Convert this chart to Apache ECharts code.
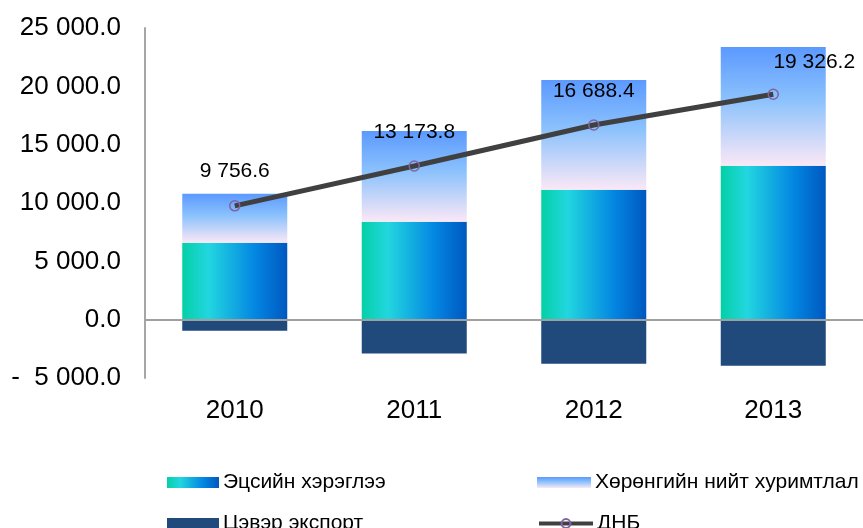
<!DOCTYPE html>
<html>
<head>
<meta charset="utf-8">
<script src="https://cdn.jsdelivr.net/npm/echarts@6/dist/echarts.min.js"></script>
<style>
  html, body { margin: 0; padding: 0; background: #fff; }
  #chart { width: 863px; height: 528px; }
</style>
</head>
<body>
<div id="chart"></div>
<script>
// data
const years = ['2010', '2011', '2012', '2013']
const consumption = [6590, 8390, 11130, 13190]
const capital = [4200, 7790, 9420, 10190]
const netExport = [-940, -2910, -3770, -3940]
const gdp = [9756.6, 13173.8, 16688.4, 19326.2]

// "25 000.0" style numbers
function fmt (v) {
  const neg = v < 0
  const parts = Math.abs(v).toFixed(1).split('.')
  const int = parts[0].replace(/\B(?=(\d{3})+(?!\d))/g, ' ')
  return (neg ? '-  ' : '') + int + '.' + parts[1]
}

const chart = echarts.init(document.getElementById('chart'))
const font = 'Liberation Sans, Arial, sans-serif'

function legendItem (name, left, top, w, icon) {
  const item = { name: name }
  if (icon) item.icon = icon
  return {
    left: left,
    top: top,
    itemWidth: w,
    itemHeight: 11,
    itemGap: 0,
    lineStyle: { width: 4 },
    textStyle: { fontSize: 21, color: '#000', fontFamily: font, padding: [0, 0, 0, -1] },
    data: [item]
  }
}

chart.setOption({
  animation: false,
  textStyle: { fontFamily: font },
  grid: { left: 145, right: -9, top: 28, bottom: 150 },
  legend: [
    legendItem('Эцсийн хэрэглээ', 162, 467, 52, 'rect'),
    legendItem('Цэвэр экспорт', 162, 508, 52, 'rect'),
    legendItem('Хөрөнгийн нийт хуримтлал', 532, 467, 54, 'rect'),
    legendItem('ДНБ', 532, 508, 54)
  ],
  xAxis: {
    type: 'category',
    data: years,
    axisLine: { show: false },
    axisTick: { show: false },
    axisLabel: { fontSize: 26, color: '#000', margin: 20 }
  },
  yAxis: {
    type: 'value',
    min: -5000,
    max: 25000,
    interval: 5000,
    splitLine: { show: false },
    axisTick: { show: false },
    axisLine: { show: true, lineStyle: { color: '#a6a6a6', width: 2 } },
    axisLabel: { fontSize: 26, color: '#000', margin: 24, formatter: fmt }
  },
  series: [
    {
      name: 'Эцсийн хэрэглээ',
      type: 'bar',
      stack: 'gdp',
      barWidth: 105,
      data: consumption,
      itemStyle: {
        color: new echarts.graphic.LinearGradient(0, 0, 1, 0, [
          { offset: 0, color: '#04d0a6' },
          { offset: 0.25, color: '#22d6df' },
          { offset: 0.7, color: '#0385e2' },
          { offset: 1, color: '#0058bf' }
        ])
      },
      markLine: {
        silent: true,
        symbol: 'none',
        label: { show: false },
        lineStyle: { color: '#a0a0a0', width: 2, type: 'solid' },
        data: [{ yAxis: 0 }]
      }
    },
    {
      name: 'Хөрөнгийн нийт хуримтлал',
      type: 'bar',
      stack: 'gdp',
      barWidth: 105,
      data: capital,
      itemStyle: {
        color: new echarts.graphic.LinearGradient(0, 0, 0, 1, [
          { offset: 0, color: '#5b99ff' },
          { offset: 0.45, color: '#8cc2fc' },
          { offset: 1, color: '#fbe8f6' }
        ])
      }
    },
    {
      name: 'Цэвэр экспорт',
      type: 'bar',
      stack: 'gdp',
      barWidth: 105,
      data: netExport,
      itemStyle: { color: '#214a7c' }
    },
    {
      name: 'ДНБ',
      type: 'line',
      data: gdp.map((v, i) => ({
        value: v,
        label: i === gdp.length - 1 ? { offset: [41, 2] } : {}
      })),
      symbol: 'circle',
      symbolSize: 10,
      lineStyle: { color: '#404040', width: 5 },
      itemStyle: { color: 'rgba(0,0,0,0)', borderColor: '#8064a2', borderWidth: 1.5 },
      label: {
        show: true,
        position: 'top',
        distance: 18,
        fontSize: 21,
        color: '#000',
        formatter: p => fmt(p.value)
      },
      z: 5
    }
  ]
})
</script>
</body>
</html>
